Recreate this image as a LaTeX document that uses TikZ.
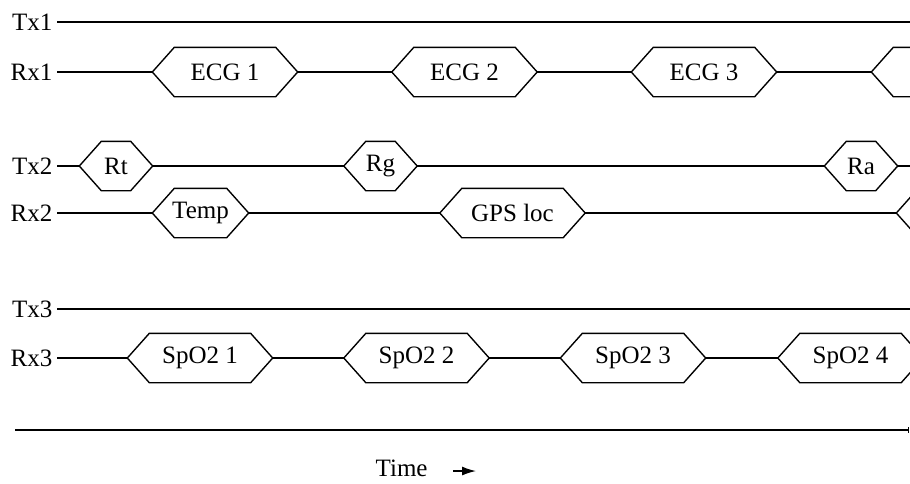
\documentclass[tikz,border=0pt]{standalone}
\usepackage{fontspec}
\setmainfont{Liberation Serif}
\usetikzlibrary{calc,arrows.meta}

\tikzset{
  hex/.style={rectangle, minimum height=19.2pt, inner sep=0pt},
  sig/.style={anchor=east, inner sep=1.6pt}
}
% outline of a bus slot, drawn round a named node
\newcommand{\hexout}[1]{%
  \draw (#1.west) -- ($(#1.north west)+(22,0)$) -- ($(#1.north east)+(-22,0)$)
    -- (#1.east) -- ($(#1.south east)+(-22,0)$) -- ($(#1.south west)+(22,0)$) -- cycle;}

\begin{document}
\begin{tikzpicture}[x=0.4pt, y=-0.4pt, line width=0.55pt]
  \useasboundingbox (0,0) rectangle (910,483);
  \clip (0,0) rectangle (910,483);

  % signal names
  \foreach \s/\y in {Tx1/22, Rx1/72, Tx2/166, Rx2/213, Tx3/309, Rx3/358} {
    \node[sig] (\s) at (57,\y) {\s};
    \coordinate (\s-end) at (920,\y);
  }

  % Tx1, Tx3: idle
  \draw (Tx1) -- (Tx1-end);
  \draw (Tx3) -- (Tx3-end);

  % Rx1: ECG
  \foreach \i/\x in {1/225, 2/464.5, 3/704} {
    \node[hex, minimum width=57.6pt] (e\i) at (\x,72) {ECG \i};
    \hexout{e\i}
  }
  \node[hex, minimum width=57.6pt] (e4) at (944,72) {};
  \hexout{e4}
  \draw (Rx1) -- (e1);
  \foreach \i/\j in {1/2, 2/3, 3/4} {
    \draw (e\i) -- (e\j);
  }

  % Tx2: requests
  \foreach \n/\t/\x in {rt/Rt/116, rg/Rg/380.5, ra/Ra/861} {
    \node[hex, minimum width=28.8pt] (\n) at (\x,166) {\t};
    \hexout{\n}
  }
  \draw (Tx2) -- (rt) -- (rg) -- (ra) -- (Tx2-end);

  % Rx2: replies
  \node[hex, minimum width=38pt] (temp) at (200.5,213) {Temp};
  \node[hex, minimum width=57.6pt] (gps) at (512.5,213) {GPS loc};
  \node[hex, minimum width=57.6pt] (next) at (969,213) {};
  \hexout{temp}
  \hexout{gps}
  \hexout{next}
  \draw (Rx2) -- (temp) -- (gps) -- (next);

  % Rx3: SpO2
  \foreach \i/\x in {1/200, 2/416.5, 3/633, 4/850.5} {
    \node[hex, minimum width=57.6pt] (o\i) at (\x,358) {SpO2 \i};
    \hexout{o\i}
  }
  \draw (Rx3) -- (o1);
  \foreach \i/\j in {1/2, 2/3, 3/4} {
    \draw (o\i) -- (o\j);
  }
  \draw (o4) -- (Rx3-end);

  % time axis
  \coordinate (t0) at (15,430);
  \coordinate (t1) at (909,430);
  \draw[-{Bar[width=2.4pt]}] (t0) -- (t1);
  \node[anchor=west, inner sep=0pt] (time) at (375,468.5) {Time};
  \coordinate (tarrow) at (476,471);
  \draw[-{Latex[length=5.6pt, width=3.6pt]}] ($(time.east)+(25,2.5)$) -- (tarrow);
\end{tikzpicture}
\end{document}
